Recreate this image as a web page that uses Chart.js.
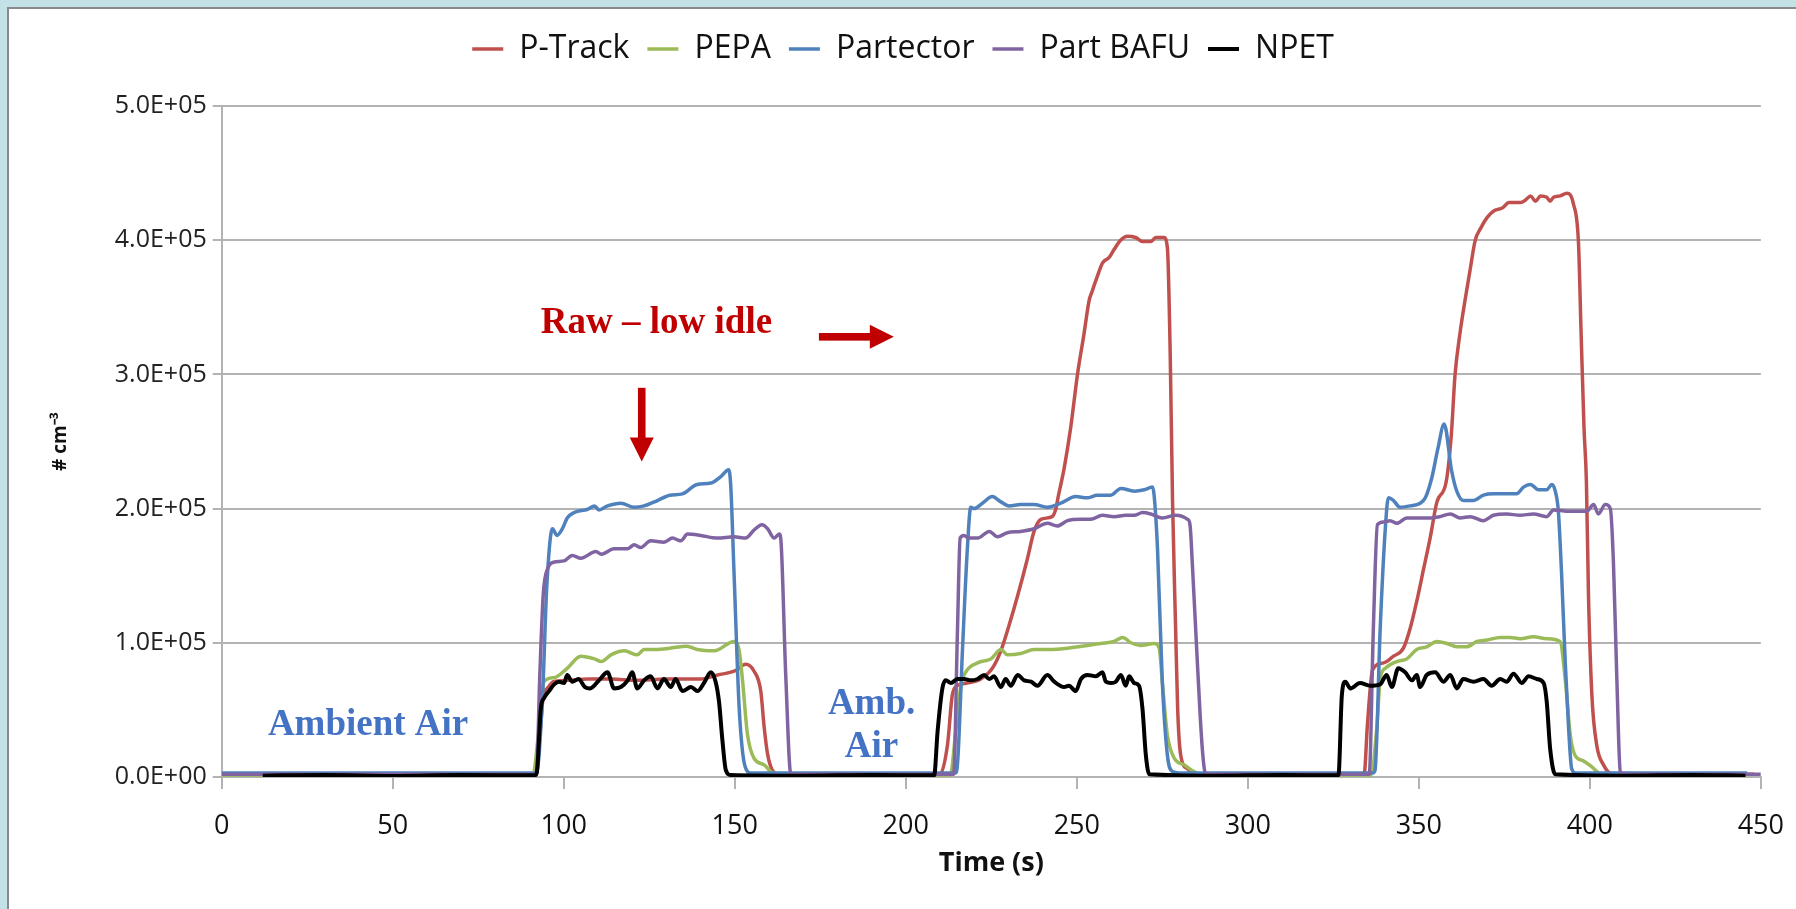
<!DOCTYPE html>
<html>
<head>
<meta charset="utf-8">
<script src="https://cdn.jsdelivr.net/npm/chart.js@4.4.1/dist/chart.umd.min.js"></script>
<style>
  html, body { margin: 0; padding: 0; }
  body { width: 1796px; height: 909px; background: #c2e2e8; position: relative; overflow: hidden; }
  #panel { position: absolute; left: 7px; top: 7px; right: 0; bottom: 0; background: #fff;
           border-left: 2px solid #8a8a8a; border-top: 2px solid #8a8a8a; }
  #chart { position: absolute; left: 0; top: 0; }
</style>
</head>
<body>
<div id="panel"></div>
<canvas id="chart" width="1796" height="909"></canvas>
<script>
// series: [time (s), concentration (# cm-3)]
var seriesNames = ['P-Track', 'PEPA', 'Partector', 'Part BAFU', 'NPET'];

var pTrack = [
  [0,2e3],[92,2e3],[93,30e3],[94,60e3],[95.2,66e3],[97,71e3],[101,72e3],[107,73e3],[114,73e3],[121,72e3],
  [130,73e3],[140,73e3],[145,76e3],[150,79e3],[153.2,84e3],[155.6,79e3],[157.6,64e3],[158.6,37e3],[159.6,17e3],
  [161,5e3],[163,2e3],
  [210,2e3],[212.2,24e3],[213.6,61e3],[215,68e3],[218,70e3],[221.9,73e3],[225.3,81e3],[227.8,94e3],[230.2,113e3],
  [232.7,135e3],[235.6,163e3],[237.5,183e3],[239.5,192e3],[242.8,194e3],[243.9,200e3],[244.5,208e3],[246.3,230e3],
  [248.2,260e3],[250.2,300e3],[252.1,330e3],[253.6,355e3],[254.5,362e3],[256,373e3],[257.5,383e3],[259.4,387e3],
  [260.9,393e3],[262.8,400e3],[264.8,403e3],[267.2,402e3],[269.2,399e3],[271.6,399e3],[273.1,402e3],[275.5,402e3],
  [276.5,394e3],[277.3,317e3],[278,205e3],[278.9,110e3],[279.5,50e3],[280.4,16e3],[282.4,6e3],[285,2e3],
  [334,2e3],[335,40e3],[336.5,80e3],[339.7,85e3],[342.6,90e3],[345.5,96e3],[347.5,111e3],[349.4,131e3],
  [351.4,155e3],[353.3,178e3],[355.3,205e3],[358,220e3],[359.5,255e3],[360.6,300e3],[362,330e3],[363.5,355e3],
  [365,378e3],[366.5,400e3],[368.1,409e3],[370,417e3],[372,422e3],[374.4,424e3],[376.4,428e3],[379.8,428e3],
  [381.2,430e3],[382.7,433e3],[384.1,429e3],[385.6,433e3],[387.4,432e3],[388.4,429e3],[389.4,432e3],[391.3,433e3],
  [393.3,435e3],[395.2,427e3],[396.7,397e3],[397.4,335e3],[398.3,260e3],[399,220e3],[399.6,136e3],[400.6,61e3],
  [402,24e3],[404,9e3],[406.4,2.5e3],[448,2e3]
];

var pepa = [
  [0,1.5e3],[91,1.5e3],[92.5,30e3],[94.2,71e3],[97.2,74e3],[101,81e3],[105,90e3],[109,88e3],[111,86e3],
  [113.8,91e3],[117.7,94e3],[121.5,91e3],[123.5,95e3],[127.4,95e3],[131,96e3],[136,97.5e3],[139,95e3],[144,94e3],
  [149.8,101e3],[151.3,94e3],[152.3,71e3],[153.7,32e3],[155.6,14e3],[158.6,9e3],[160.5,4e3],[164,1.5e3],
  [213,1.5e3],[214.6,34e3],[216.1,68e3],[217.5,78e3],[221,85e3],[224.9,88e3],[227.8,95e3],[229.7,91e3],
  [233.6,92e3],[237.5,95e3],[242.4,95e3],[247.3,96e3],[253.1,98e3],[257,99.5e3],[260.9,101e3],[263.4,104e3],
  [265.8,100e3],[268.7,98e3],[272.6,99.5e3],[274.1,96e3],[275,71e3],[276.5,31e3],[278.5,14e3],[281.4,9e3],
  [284.3,4e3],[287,1.5e3],
  [336,1.5e3],[337.7,36e3],[338.7,73e3],[340.2,81e3],[343.6,86e3],[346.5,88e3],[349.4,95e3],[352.3,97e3],
  [355.3,101e3],[358.2,99.5e3],[361.1,97e3],[364,97e3],[367,101e3],[369.9,102e3],[373.8,104e3],[376.7,104e3],
  [379.6,103e3],[383.5,104.5e3],[387.4,103e3],[391.3,101e3],[392.8,73e3],[394.3,31e3],[395.7,16e3],[398.1,12e3],
  [400.6,7.5e3],[403,2.5e3],[406,1.5e3],[446,1.5e3]
];

var partector = [
  [0,3e3],[92,3e3],[93.8,60e3],[95,140e3],[96.7,185e3],[98,180e3],[99.6,185e3],[101,193e3],[103,197e3],
  [107,199.5e3],[109,202e3],[110.3,199e3],[112.8,202e3],[116.7,204e3],[120.6,201e3],[123.5,202e3],[127.4,206e3],
  [131,210e3],[134.7,211e3],[139,218e3],[143,219e3],[146,224e3],[148.2,229e3],[148.8,218e3],[149.8,151e3],
  [151.3,51e3],[153,8e3],[154.7,3e3],
  [214.5,3e3],[215.1,9e3],[216.6,96e3],[218,170e3],[219,201e3],[220,200e3],[222.4,204e3],[225.3,209e3],
  [227.8,205e3],[230.2,202e3],[233.6,203e3],[237.5,203e3],[241.4,201e3],[245.3,204e3],[249.7,209e3],[253,208e3],
  [256,210e3],[259.9,210e3],[262.9,215e3],[266.8,213e3],[269.7,214e3],[272.1,216e3],[272.6,210e3],[273.6,170e3],
  [275,71e3],[276.5,16e3],[278,4e3],[280,3e3],
  [336.5,3e3],[337.2,5e3],[338.7,110e3],[340.2,185e3],[341.1,208e3],[342.6,206e3],[344.5,201e3],[347.5,202e3],
  [350.4,204e3],[351.9,208e3],[353.8,223e3],[355.6,245e3],[357.4,263e3],[359.6,228e3],[361.1,213e3],[363,206e3],
  [366,206e3],[368.9,210e3],[371.8,211e3],[375.7,211e3],[378.6,211e3],[380.6,216e3],[382.6,218e3],[385,214e3],
  [387.4,214e3],[388.9,218e3],[389.9,213e3],[390.8,198e3],[391.8,148e3],[392.8,86e3],[393.8,36e3],[394.7,6e3],
  [396,3e3],[446,3e3]
];

var partBafu = [
  [0,2e3],[92,2e3],[93,76e3],[94,136e3],[95.4,156e3],[97,160e3],[100.1,161e3],[102.5,165e3],[105,163e3],
  [109.4,168e3],[111,166e3],[114.7,170e3],[118.6,170e3],[120.6,173e3],[122.5,171e3],[125.4,176e3],[129.3,175e3],
  [131.8,178e3],[134.2,176e3],[136.2,181e3],[140,180e3],[144.9,178e3],[149.8,179e3],[153.2,178e3],[155.6,184e3],
  [158,188e3],[159.6,185e3],[161.5,178e3],[163,181e3],[163.5,176e3],[164.9,76e3],[166.4,2e3],
  [214,2e3],[215.1,108e3],[215.9,178e3],[217,180e3],[218.5,178e3],[221,178e3],[224.4,183e3],[226.8,179e3],
  [229.7,182e3],[233.6,183e3],[237.5,185e3],[241.4,189e3],[244.3,187e3],[247.3,191e3],[251.2,192e3],[254.1,192e3],
  [257.5,195e3],[260.9,194e3],[264.3,195e3],[266.8,195e3],[269.2,197e3],[271.6,196e3],[275,193e3],[278.9,195e3],
  [282.4,192e3],[283.1,188e3],[283.8,158e3],[285.3,83e3],[286.7,21e3],[287.7,2e3],
  [335.5,2e3],[336.7,110e3],[337.9,188e3],[339.7,190e3],[341.6,191e3],[343.6,189e3],[346.5,193e3],[349.4,193e3],
  [353.3,193e3],[356.2,194e3],[359.2,196e3],[362.1,193e3],[365,194e3],[368.9,191e3],[371.8,195e3],[375.7,196e3],
  [379.6,195e3],[383.5,196e3],[387.4,194e3],[389.4,199e3],[393.3,198e3],[397.2,198e3],[399.1,198e3],[401.1,203e3],
  [402.5,196e3],[404.5,203e3],[406,200e3],[406.9,160e3],[407.9,73e3],[408.9,4e3],[410,2e3],[450,2e3]
];

var npet = [
  [12,1e3],[30,1.5e3],[50,0.8e3],[70,1.5e3],[91.5,1.2e3],[92.1,3e3],[93.3,51e3],[94.3,59e3],[95.7,64e3],
  [97.2,69e3],[98.6,71e3],[100.1,70e3],[101,76e3],[102.5,71e3],[104.3,73e3],[106.2,67e3],[107.7,66e3],[110.3,72e3],
  [112.8,78e3],[114.7,66e3],[116.7,67e3],[118.7,72e3],[120,78e3],[121.5,66e3],[123.5,72e3],[125.4,75e3],
  [127.4,66e3],[129.3,73e3],[131.3,67e3],[132.7,73e3],[134.7,64e3],[137.2,67e3],[139.1,64e3],[141,70e3],
  [143,78e3],[144.4,71e3],[145.4,56e3],[146.4,27e3],[147.4,5e3],[148.8,1.5e3],
  [170,1e3],[190,1.5e3],[208.3,1.2e3],[209.3,34e3],[210.7,66e3],[211.7,72e3],[213.2,70e3],[215.1,73e3],[217,73e3],
  [219,72e3],[221,73e3],[222.9,76e3],[224.4,73e3],[225.8,75e3],[227.8,67e3],[229.2,73e3],[230.7,68e3],
  [232.7,76e3],[234.6,72e3],[236.6,71e3],[238.5,68e3],[241.4,76e3],[243.4,71e3],[246.3,67e3],[247.7,68e3],
  [249.7,64e3],[251.2,73e3],[253.2,76e3],[255.6,75e3],[257.5,78e3],[258.5,71e3],[260,70e3],[261.4,71e3],
  [262.9,76e3],[264.3,68e3],[265.3,75e3],[266.8,70e3],[268.2,68e3],[269.2,51e3],[270.2,16e3],[271.2,2e3],
  [290,1e3],[310,1.5e3],[326.5,1.2e3],[327.5,61e3],[328.5,71e3],[330,66e3],[332.8,70e3],[335.8,68e3],
  [338.7,69e3],[340.6,76e3],[342.1,67e3],[344,81e3],[346,78e3],[348,72e3],[349.4,76e3],[350.4,67e3],[352.3,76e3],
  [354.8,78e3],[357.2,71e3],[359.2,76e3],[361.1,66e3],[363,73e3],[366,71e3],[368.9,73e3],[371.3,68e3],
  [373.8,73e3],[375.7,71e3],[377.7,77e3],[380.1,70e3],[382.1,75e3],[384.5,73e3],[386.5,70e3],[387.4,56e3],
  [388.4,21e3],[389.9,2e3],[410,1e3],[430,1.5e3],[445.5,1e3]
];

var xTicks = { min: 0, max: 450, step: 50 };
var yTicks = { min: 0, max: 5e5, step: 1e5 };

var seriesColors = ['#c0504d', '#9bbb59', '#4f81bd', '#8064a2', '#000000'];

function sci(v) {
  if (v === 0) return '0.0E+00';
  var e = Math.floor(Math.log10(v));
  var m = v / Math.pow(10, e);
  return m.toFixed(1) + 'E+' + (e < 10 ? '0' : '') + e;
}

// text and arrows laid over the plot, placed in data units
var notes = [
  { text: 'Raw – low idle', t: 93.3, v: 330.5e3, color: '#c00000', align: 'left' },
  { text: 'Ambient Air', t: 13.5, v: 31.3e3, color: '#4472c4', align: 'left' },
  { text: 'Amb.', t: 190, v: 47.2e3, color: '#4472c4', align: 'center' },
  { text: 'Air', t: 190, v: 14.9e3, color: '#4472c4', align: 'center' }
];
var arrows = [
  { t1: 174.6, v1: 328e3, t2: 196.5, v2: 328e3 },
  { t1: 122.8, v1: 290e3, t2: 122.8, v2: 235e3 }
];

var overlay = {
  id: 'overlay',
  afterDatasetsDraw: function(chart) {
    var ctx = chart.ctx, xs = chart.scales.x, ys = chart.scales.y;
    ctx.save();
    ctx.font = 'bold 37px "Liberation Serif", "Times New Roman", serif';
    ctx.textBaseline = 'alphabetic';
    notes.forEach(function(n) {
      ctx.fillStyle = n.color;
      ctx.textAlign = n.align;
      ctx.fillText(n.text, xs.getPixelForValue(n.t), ys.getPixelForValue(n.v));
    });
    ctx.fillStyle = '#c00000';
    arrows.forEach(function(a) {
      var x1 = xs.getPixelForValue(a.t1), y1 = ys.getPixelForValue(a.v1);
      var x2 = xs.getPixelForValue(a.t2), y2 = ys.getPixelForValue(a.v2);
      var ang = Math.atan2(y2 - y1, x2 - x1);
      var len = Math.hypot(x2 - x1, y2 - y1);
      var head = 24, half = 12, shaft = 3.8;
      ctx.save();
      ctx.translate(x1, y1);
      ctx.rotate(ang);
      ctx.fillRect(0, -shaft, len - head + 1, shaft * 2);
      ctx.beginPath();
      ctx.moveTo(len, 0);
      ctx.lineTo(len - head, -half);
      ctx.lineTo(len - head, half);
      ctx.closePath();
      ctx.fill();
      ctx.restore();
    });
    ctx.restore();
  }
};

var legendGap = {
  id: 'legendGap',
  beforeInit: function(chart) {
    var fit = chart.legend.fit;
    chart.legend.fit = function() {
      fit.bind(chart.legend)();
      this.height += 31;
    };
  }
};

var allSeries = [pTrack, pepa, partector, partBafu, npet];
var datasets = allSeries.map(function(s, i) {
  return {
    label: seriesNames[i],
    data: s,
    borderColor: seriesColors[i],
    backgroundColor: seriesColors[i],
    borderWidth: i === 4 ? 4 : 3.5,
    pointRadius: 0,
    cubicInterpolationMode: 'monotone',
    order: 4 - i
  };
});

new Chart(document.getElementById('chart'), {
  type: 'line',
  data: { datasets: datasets },
  options: {
    responsive: false,
    animation: false,
    layout: { padding: { top: 15, left: 38, right: 28, bottom: 32 } },
    plugins: {
      legend: {
        position: 'top',
        labels: {
          usePointStyle: true,
          pointStyle: 'line',
          pointStyleWidth: 31,
          padding: 18,
          color: '#111',
          font: { family: '"Open Sans"', size: 32 },
          sort: function(a, b) { return a.datasetIndex - b.datasetIndex; }
        }
      },
      tooltip: { enabled: false }
    },
    scales: {
      x: {
        type: 'linear',
        min: xTicks.min, max: xTicks.max,
        ticks: { stepSize: xTicks.step, color: '#111', padding: 12,
                 font: { family: '"Open Sans"', size: 27, lineHeight: 1.89 } },
        grid: { drawOnChartArea: false, color: '#b3b3b3', lineWidth: 2, tickLength: 12 },
        border: { color: '#b3b3b3', width: 2 },
        title: { display: true, text: 'Time (s)', color: '#111', padding: { top: -14, bottom: 0 },
                 font: { family: '"Open Sans"', size: 27, weight: 'bold', lineHeight: 1 } }
      },
      y: {
        min: yTicks.min, max: yTicks.max,
        ticks: { stepSize: yTicks.step, color: '#222', padding: 6, callback: sci,
                 font: { family: '"Open Sans"', size: 25 } },
        grid: { color: '#b3b3b3', lineWidth: 2, tickLength: 9 },
        border: { color: '#b3b3b3', width: 2 },
        title: { display: true, text: '# cm⁻³', color: '#111', padding: { top: 11, bottom: 37 },
                 font: { family: '"Open Sans"', size: 19, weight: 'bold' } }
      }
    }
  },
  plugins: [legendGap, overlay]
});
</script>
</body>
</html>
